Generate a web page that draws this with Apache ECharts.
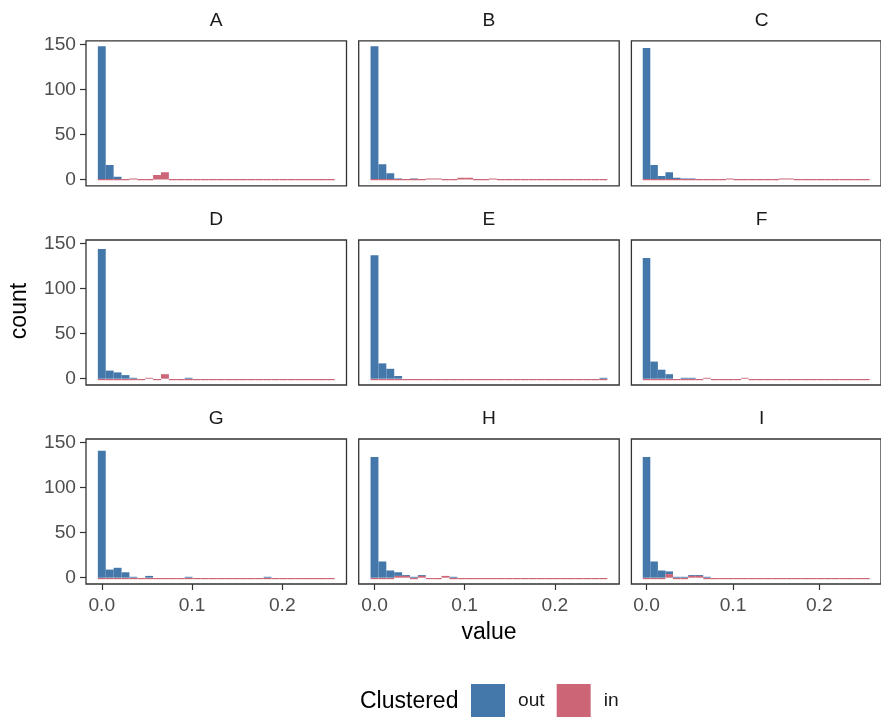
<!DOCTYPE html>
<html>
<head>
<meta charset="utf-8">
<script src="https://cdn.jsdelivr.net/npm/echarts@6/dist/echarts.min.js"></script>
<style>html,body{margin:0;padding:0;background:#fff}#c{width:881px;height:717px}</style>
</head>
<body>
<div id="c"></div>
<script>
// ---- data ----
const panels = ['A','B','C','D','E','F','G','H','I'];
const binCenters = [0, 0.00875, 0.0175, 0.02625, 0.035, 0.04375, 0.0525, 0.06125, 0.07, 0.07875,
  0.0875, 0.09625, 0.105, 0.11375, 0.1225, 0.13125, 0.14, 0.14875, 0.1575, 0.16625,
  0.175, 0.18375, 0.1925, 0.20125, 0.21, 0.21875, 0.2275, 0.23625, 0.245, 0.25375];
const binWidth = 0.00875;
const xTicks = [0, 0.1, 0.2];
const yTicks = [0, 50, 100, 150];
const outA = [148,16,3,0,0,0,0,0,0,0,0,0,0,0,0,0,0,0,0,0,0,0,0,0,0,0,0,0,0,0];
const inA  = [0,0,0,0,1,0,0,5,8,0,0,0,0,0,0,0,0,0,0,0,0,0,0,0,0,0,0,0,0,0];
const outB = [148,17,7,1,0,1,0,0,0,0,0,0,0,0,0,0,0,0,0,0,0,0,0,0,0,0,0,0,0,0];
const inB  = [0,0,0,0,0,0,0,1,1,0,0,2,2,0,0,1,0,0,0,0,0,0,0,0,0,0,0,0,0,0];
const outC = [146,16,4,8,2,1,1,0,0,0,0,0,0,0,0,0,0,0,0,0,0,0,0,0,0,0,0,0,0,0];
const inC  = [0,0,0,0,0,0,0,0,0,0,0,1,0,0,0,0,0,0,1,1,0,0,0,0,0,0,0,0,0,0];
const outD = [144,9,7,4,1,0,0,0,0,0,0,1,0,0,0,0,0,0,0,0,0,0,0,0,0,0,0,0,0,0];
const inD  = [0,0,0,0,0,0,1,0,5,0,0,0,0,0,0,0,0,0,0,0,0,0,0,0,0,0,0,0,0,0];
const outE = [137,17,11,3,0,0,0,0,0,0,0,0,0,0,0,0,0,0,0,0,0,0,0,0,0,0,0,0,0,1];
const inE  = [0,0,0,0,0,0,0,0,0,0,0,0,0,0,0,0,0,0,0,0,0,0,0,0,0,0,0,0,0,0];
const outF = [134,19,10,5,0,1,1,0,0,0,0,0,0,0,0,0,0,0,0,0,0,0,0,0,0,0,0,0,0,0];
const inF  = [0,0,0,0,0,0,0,0,1,0,0,0,0,1,0,0,0,0,0,0,0,0,0,0,0,0,0,0,0,0];
const outG = [141,9,11,6,1,0,2,0,0,0,0,1,0,0,0,0,0,0,0,0,0,1,0,0,0,0,0,0,0,0];
const inG  = [0,0,0,0,0,0,0,0,0,0,0,0,0,0,0,0,0,0,0,0,0,0,0,0,0,0,0,0,0,0];
const outH = [134,18,8,4,1,1,1,0,0,0,1,0,0,0,0,0,0,0,0,0,0,0,0,0,0,0,0,0,0,0];
const inH  = [0,0,0,2,2,0,2,0,0,2,0,0,0,0,0,0,0,0,0,0,0,0,0,0,0,0,0,0,0,0];
const outI = [134,18,8,3,1,1,1,1,1,0,0,0,0,0,0,0,0,0,0,0,0,0,0,0,0,0,0,0,0,0];
const inI  = [0,0,0,4,0,0,2,2,0,0,0,0,0,0,0,0,0,0,0,0,0,0,0,0,0,0,0,0,0,0];

const outData = [outA,outB,outC,outD,outE,outF,outG,outH,outI];
const inData  = [inA,inB,inC,inD,inE,inF,inG,inH,inI];

// ---- style ----
const BLUE = '#4477AA', RED = '#CC6677';
const FONT = '"Liberation Sans", Arial, sans-serif';
const SMALL = 19.2, LARGE = 23;
const colLeft = [86, 358.7, 631.4];
const rowTop = [40.8, 240, 439];
const pw = 260.5, ph = 145;
const xMin = -0.0175, xMax = 0.27125;
const yMin = -7, yMax = 154;

function renderOut(params, api) {
  const v = api.value(1);
  if (!v) return null;
  const x = api.value(0), base = api.value(2);
  const p0 = api.coord([x - binWidth/2, base]);
  const p1 = api.coord([x + binWidth/2, base + v]);
  return {type:'rect', shape:{x:p0[0], y:p1[1], width:p1[0]-p0[0], height:p0[1]-p1[1]},
          style:{fill:BLUE}};
}
function renderIn(params, api) {
  const v = api.value(1);
  const x = api.value(0);
  const p0 = api.coord([x - binWidth/2, 0]);
  const p1 = api.coord([x + binWidth/2, v]);
  if (!v) {
    return {type:'rect', shape:{x:p0[0], y:Math.round(p0[1]), width:p1[0]-p0[0], height:1.2}, style:{fill:RED}};
  }
  return {type:'rect', shape:{x:p0[0], y:p1[1], width:p1[0]-p0[0], height:p0[1]-p1[1]},
          style:{fill:RED}};
}

const grids = [], xAxes = [], yAxes = [], series = [], titles = [];
panels.forEach((name, i) => {
  const r = Math.floor(i/3), c = i % 3;
  grids.push({left: colLeft[c], top: rowTop[r], width: pw, height: ph, show: true,
    borderColor: '#333333', borderWidth: 1.3, backgroundColor: '#fff'});
  xAxes.push({type:'value', gridIndex:i, min:xMin, max:xMax, position:'bottom',
    axisLine:{show:false, onZero:false}, splitLine:{show:false},
    axisTick:{show: r===2, length:6, lineStyle:{color:'#333', width:1.2}, customValues: xTicks},
    axisLabel:{show: r===2, customValues: xTicks, margin:12, color:'#4d4d4d', fontSize:SMALL, fontFamily:FONT,
      formatter: v => v.toFixed(1)}});
  yAxes.push({type:'value', gridIndex:i, min:yMin, max:yMax, position:'left',
    axisLine:{show:false, onZero:false}, splitLine:{show:false},
    axisTick:{show: c===0, length:6, lineStyle:{color:'#333', width:1.2}, customValues: yTicks},
    axisLabel:{show: c===0, customValues: yTicks, margin:10, color:'#4d4d4d', fontSize:SMALL, fontFamily:FONT}});
  series.push({type:'custom', name:'out', xAxisIndex:i, yAxisIndex:i, clip:true,
    itemStyle:{color:BLUE}, encode:{x:0, y:1},
    data: binCenters.map((b,k) => [b, outData[i][k], inData[i][k]]), renderItem: renderOut});
  series.push({type:'custom', name:'in', xAxisIndex:i, yAxisIndex:i, clip:true,
    itemStyle:{color:RED}, encode:{x:0, y:1},
    data: binCenters.map((b,k) => [b, inData[i][k], 0]), renderItem: renderIn});
  titles.push({text: name, left: colLeft[c] + pw/2, top: rowTop[r] - 30, textAlign: 'center', padding: 0,
    textStyle:{fontSize:SMALL, fontWeight:'normal', color:'#1a1a1a', fontFamily:FONT}});
});

const chart = echarts.init(document.getElementById('c'), null, {renderer:'canvas'});
chart.setOption({
  animation: false,
  backgroundColor: '#fff',
  title: titles,
  grid: grids,
  xAxis: xAxes,
  yAxis: yAxes,
  series: series,
  legend: {data:['out','in'], left: 471, top: 684, itemWidth: 34, itemHeight: 33, itemGap: 12,
    icon: 'rect', selectedMode: false, padding: 0,
    textStyle:{fontSize:SMALL, color:'#1a1a1a', fontFamily:FONT, padding:[0,0,0,8]}},
  graphic: [
    {type:'text', x: 20, y: 311, rotation: Math.PI/2,
      style:{text:'count', fontSize:LARGE, fill:'#000', fontFamily:FONT, align:'center', verticalAlign:'middle'}},
    {type:'text', x: 489, y: 633, style:{text:'value', fontSize:LARGE, fill:'#000', fontFamily:FONT, align:'center', verticalAlign:'middle'}},
    {type:'text', x: 360, y: 702, style:{text:'Clustered', fontSize:LARGE, fill:'#000', fontFamily:FONT, align:'left', verticalAlign:'middle'}}
  ]
});
</script>
</body>
</html>
